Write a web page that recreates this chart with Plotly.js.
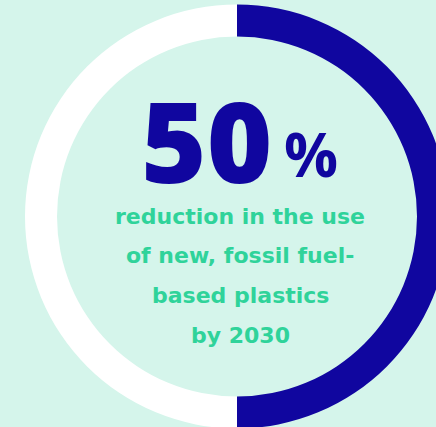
<!DOCTYPE html>
<html>
<head>
<meta charset="utf-8">
<script src="https://cdn.plot.ly/plotly-3.0.1.min.js"></script>
<style>
html,body{margin:0;padding:0;overflow:hidden;background:#d5f5eb;width:436px;height:427px;}
#chart{width:474px;height:433px;}
</style>
</head>
<body>
<div id="chart"></div>
<script>
var labels = ["Reduction", "Remaining"];
var values = [50, 50];
var colors = ["#10069f", "#ffffff"];
var headline = "50";
var headlineUnit = "%";
var captionLines = ["reduction in the use", "of new, fossil fuel-", "based plastics", "by 2030"];

var W = 474, H = 433;
var cx = 237, cy = 216.5, R = 212;

var trace = {
  type: "pie",
  labels: labels,
  values: values,
  marker: {colors: colors, line: {width: 0}},
  hole: 180 / 212,
  sort: false,
  direction: "clockwise",
  rotation: 0,
  textinfo: "none",
  hoverinfo: "none",
  showlegend: false,
  domain: {x: [(cx - R) / W, (cx + R) / W], y: [(H - cy - R) / H, (H - cy + R) / H]}
};

var ann = [];
ann.push({
  text: headline, xref: "paper", yref: "paper",
  x: 206 / W, y: 1 - 139 / H, xanchor: "center", yanchor: "middle",
  height: 100,
  showarrow: false,
  font: {family: "Open Sans, sans-serif", size: 112, color: "#10069f", weight: 800}
});
ann.push({
  text: headlineUnit, xref: "paper", yref: "paper",
  x: 311 / W, y: 1 - 154 / H, xanchor: "center", yanchor: "middle",
  height: 56,
  showarrow: false,
  font: {family: "Open Sans, sans-serif", size: 60, color: "#10069f", weight: 700}
});
var lineY = [216, 255, 295, 335];
captionLines.forEach(function (t, i) {
  ann.push({
    text: t, xref: "paper", yref: "paper",
    x: 240 / W, y: 1 - lineY[i] / H, xanchor: "center", yanchor: "middle",
    showarrow: false,
    font: {family: "DejaVu Sans, sans-serif", size: 22, color: "#2fd39a", weight: 700}
  });
});

Plotly.newPlot("chart", [trace], {
  width: W, height: H,
  margin: {l: 0, r: 0, t: 0, b: 0, pad: 0},
  paper_bgcolor: "#d5f5eb",
  plot_bgcolor: "#d5f5eb",
  annotations: ann
}, {displayModeBar: false, staticPlot: true});
</script>
</body>
</html>
